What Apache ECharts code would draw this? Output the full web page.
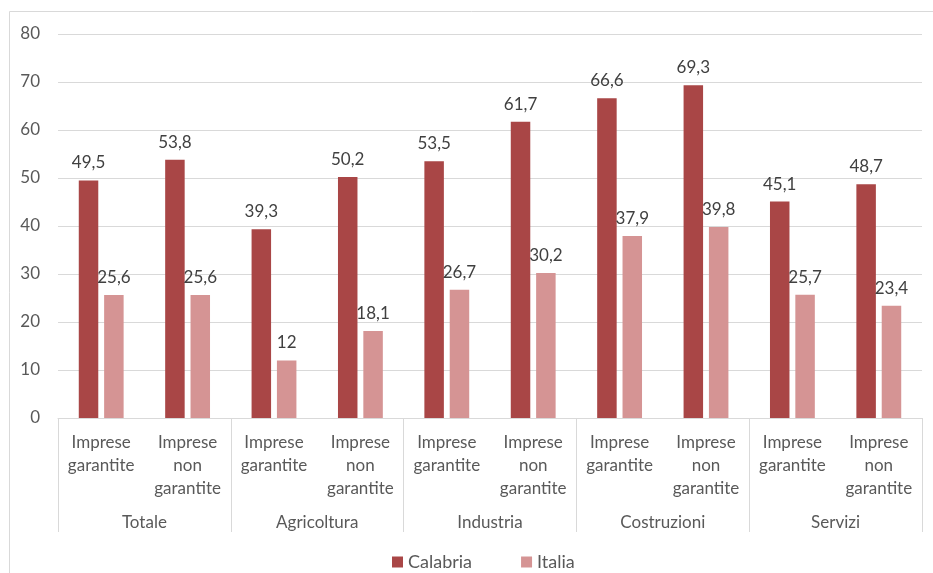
<!DOCTYPE html>
<html>
<head>
<meta charset="utf-8">
<script src="https://cdn.jsdelivr.net/npm/echarts@6/dist/echarts.min.js"></script>
<style>
  html, body { margin: 0; padding: 0; background: #fff; }
  #chart { width: 933px; height: 573px; }
</style>
</head>
<body>
<div id="chart"></div>
<script>
// Sub-categories (one bar pair each) and the sectors that group them
const subCategories = [
  'Imprese\ngarantite', 'Imprese\nnon\ngarantite',
  'Imprese\ngarantite', 'Imprese\nnon\ngarantite',
  'Imprese\ngarantite', 'Imprese\nnon\ngarantite',
  'Imprese\ngarantite', 'Imprese\nnon\ngarantite',
  'Imprese\ngarantite', 'Imprese\nnon\ngarantite'
];
const sectors = ['Totale', 'Agricoltura', 'Industria', 'Costruzioni', 'Servizi'];

const calabria = [49.5, 53.8, 39.3, 50.2, 53.5, 61.7, 66.6, 69.3, 45.1, 48.7];
const italia   = [25.6, 25.6, 12, 18.1, 26.7, 30.2, 37.9, 39.8, 25.7, 23.4];

const FONT = 'Lato, "Open Sans", sans-serif';
const GRID_COLOR = '#d9d9d9';
const TEXT_COLOR = '#595959';

const chart = echarts.init(document.getElementById('chart'), null, { renderer: 'canvas' });

const valueLabel = {
  show: true,
  position: 'top',
  distance: 9,
  fontFamily: FONT,
  fontSize: 17,
  color: '#404040',
  formatter: p => String(p.value).replace('.', ',')
};

chart.setOption({
  animation: false,
  textStyle: { fontFamily: FONT },
  graphic: [{
    type: 'rect',
    shape: { x: 9.5, y: 11.5, width: 940, height: 600 },
    style: { fill: 'none', stroke: GRID_COLOR, lineWidth: 1 },
    silent: true
  }],
  grid: { left: 58, right: 11, top: 34, bottom: 155, containLabel: false },
  legend: {
    left: 387,
    top: 548,
    icon: 'rect',
    itemWidth: 11,
    itemHeight: 11,
    itemGap: 49,
    textStyle: { fontFamily: FONT, fontSize: 18, color: TEXT_COLOR },
    data: ['Calabria', 'Italia']
  },
  xAxis: [
    {
      type: 'category',
      data: subCategories,
      position: 'bottom',
      axisLine: { show: true, lineStyle: { color: GRID_COLOR, width: 1 } },
      axisTick: { show: false },
      axisLabel: {
        interval: 0,
        fontFamily: FONT,
        fontSize: 17,
        lineHeight: 23,
        color: TEXT_COLOR,
        margin: 13
      }
    },
    {
      type: 'category',
      data: sectors,
      position: 'bottom',
      offset: 114,
      axisLine: { show: false },
      axisTick: { show: true, inside: true, length: 114, lineStyle: { color: GRID_COLOR, width: 1 } },
      axisLabel: {
        inside: true,
        interval: 0,
        margin: 1,
        fontFamily: FONT,
        fontSize: 17,
        color: TEXT_COLOR
      },
      splitLine: { show: false }
    }
  ],
  yAxis: {
    type: 'value',
    min: 0,
    max: 80,
    interval: 10,
    axisLine: { show: false },
    axisTick: { show: false },
    axisLabel: { fontFamily: FONT, fontSize: 17, color: TEXT_COLOR, margin: 18 },
    splitLine: { lineStyle: { color: GRID_COLOR, width: 1 } }
  },
  series: [
    {
      name: 'Calabria',
      type: 'bar',
      xAxisIndex: 0,
      data: calabria,
      barWidth: 19.5,
      barGap: '30%',
      itemStyle: { color: '#A94646' },
      label: valueLabel
    },
    {
      name: 'Italia',
      type: 'bar',
      xAxisIndex: 0,
      data: italia,
      barWidth: 19.5,
      barGap: '30%',
      itemStyle: { color: '#D59494' },
      label: valueLabel
    }
  ]
});
</script>
</body>
</html>
